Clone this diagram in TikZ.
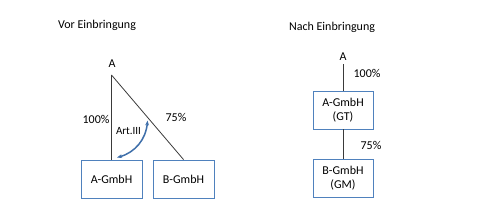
\documentclass[tikz,border=0pt]{standalone}
\usepackage{fontspec}
\setmainfont{Carlito}
\usetikzlibrary{arrows.meta}
\definecolor{boxblue}{HTML}{4F81BD}
\definecolor{arcblue}{HTML}{3F6FAA}
\definecolor{linegray}{HTML}{3A3A3A}
\newcommand{\firmbox}[4]{%
  \node[draw=boxblue, line width=0.9pt, fill=white, minimum width=#4pt,
        minimum height=38pt, align=center, inner sep=1pt] (#1) at (#2) {#3};}
\begin{document}
\begin{tikzpicture}[x=1pt, y=-1pt, font=\fontsize{12}{14.5}\selectfont]
      \useasboundingbox (0,0) rectangle (480,219);
      % vor der Einbringung
      \node (titleL) at (97,25) {Vor Einbringung};
      \node (ownerL) at (112,64) {A};
      \coordinate (topL) at (111.5,75);
      \firmbox{agmbh}{111.5,179}{A-GmbH}{61}
      \firmbox{bgmbh}{183.5,179}{B-GmbH}{61}
      \draw[linegray, line width=0.8pt] (topL) -- (agmbh.north);
      \draw[linegray, line width=0.8pt] (topL) -- (bgmbh.north);
      \node (pctA) at (96,119) {100\%};
      \node (pctB) at (176,117) {75\%};
      \node[font=\fontsize{11}{13}\selectfont] (art) at (128.5,131.5) {Art.III};
      \coordinate (arcTop) at (147.5,120.5);
      \coordinate (arcEnd) at (117,157.5);
      \draw[{Stealth[length=5pt]}-{Stealth[length=5pt]}, arcblue, line width=1.5pt]
        (arcTop) to[bend left=35] (arcEnd);
      % nach der Einbringung
      \node (titleR) at (332,27) {Nach Einbringung};
      \node (ownerR) at (343,57) {A};
      \firmbox{agt}{343,110}{A-GmbH\\(GT)}{60}
      \firmbox{bgm}{343,178}{B-GmbH\\(GM)}{60}
      \draw[linegray, line width=0.8pt] (ownerR.south) -- (agt.north);
      \draw[linegray, line width=0.8pt] (agt.south) -- (bgm.north);
      \node (pctGT) at (367,73) {100\%};
      \node (pctGM) at (371,145) {75\%};
    \end{tikzpicture}
\end{document}
